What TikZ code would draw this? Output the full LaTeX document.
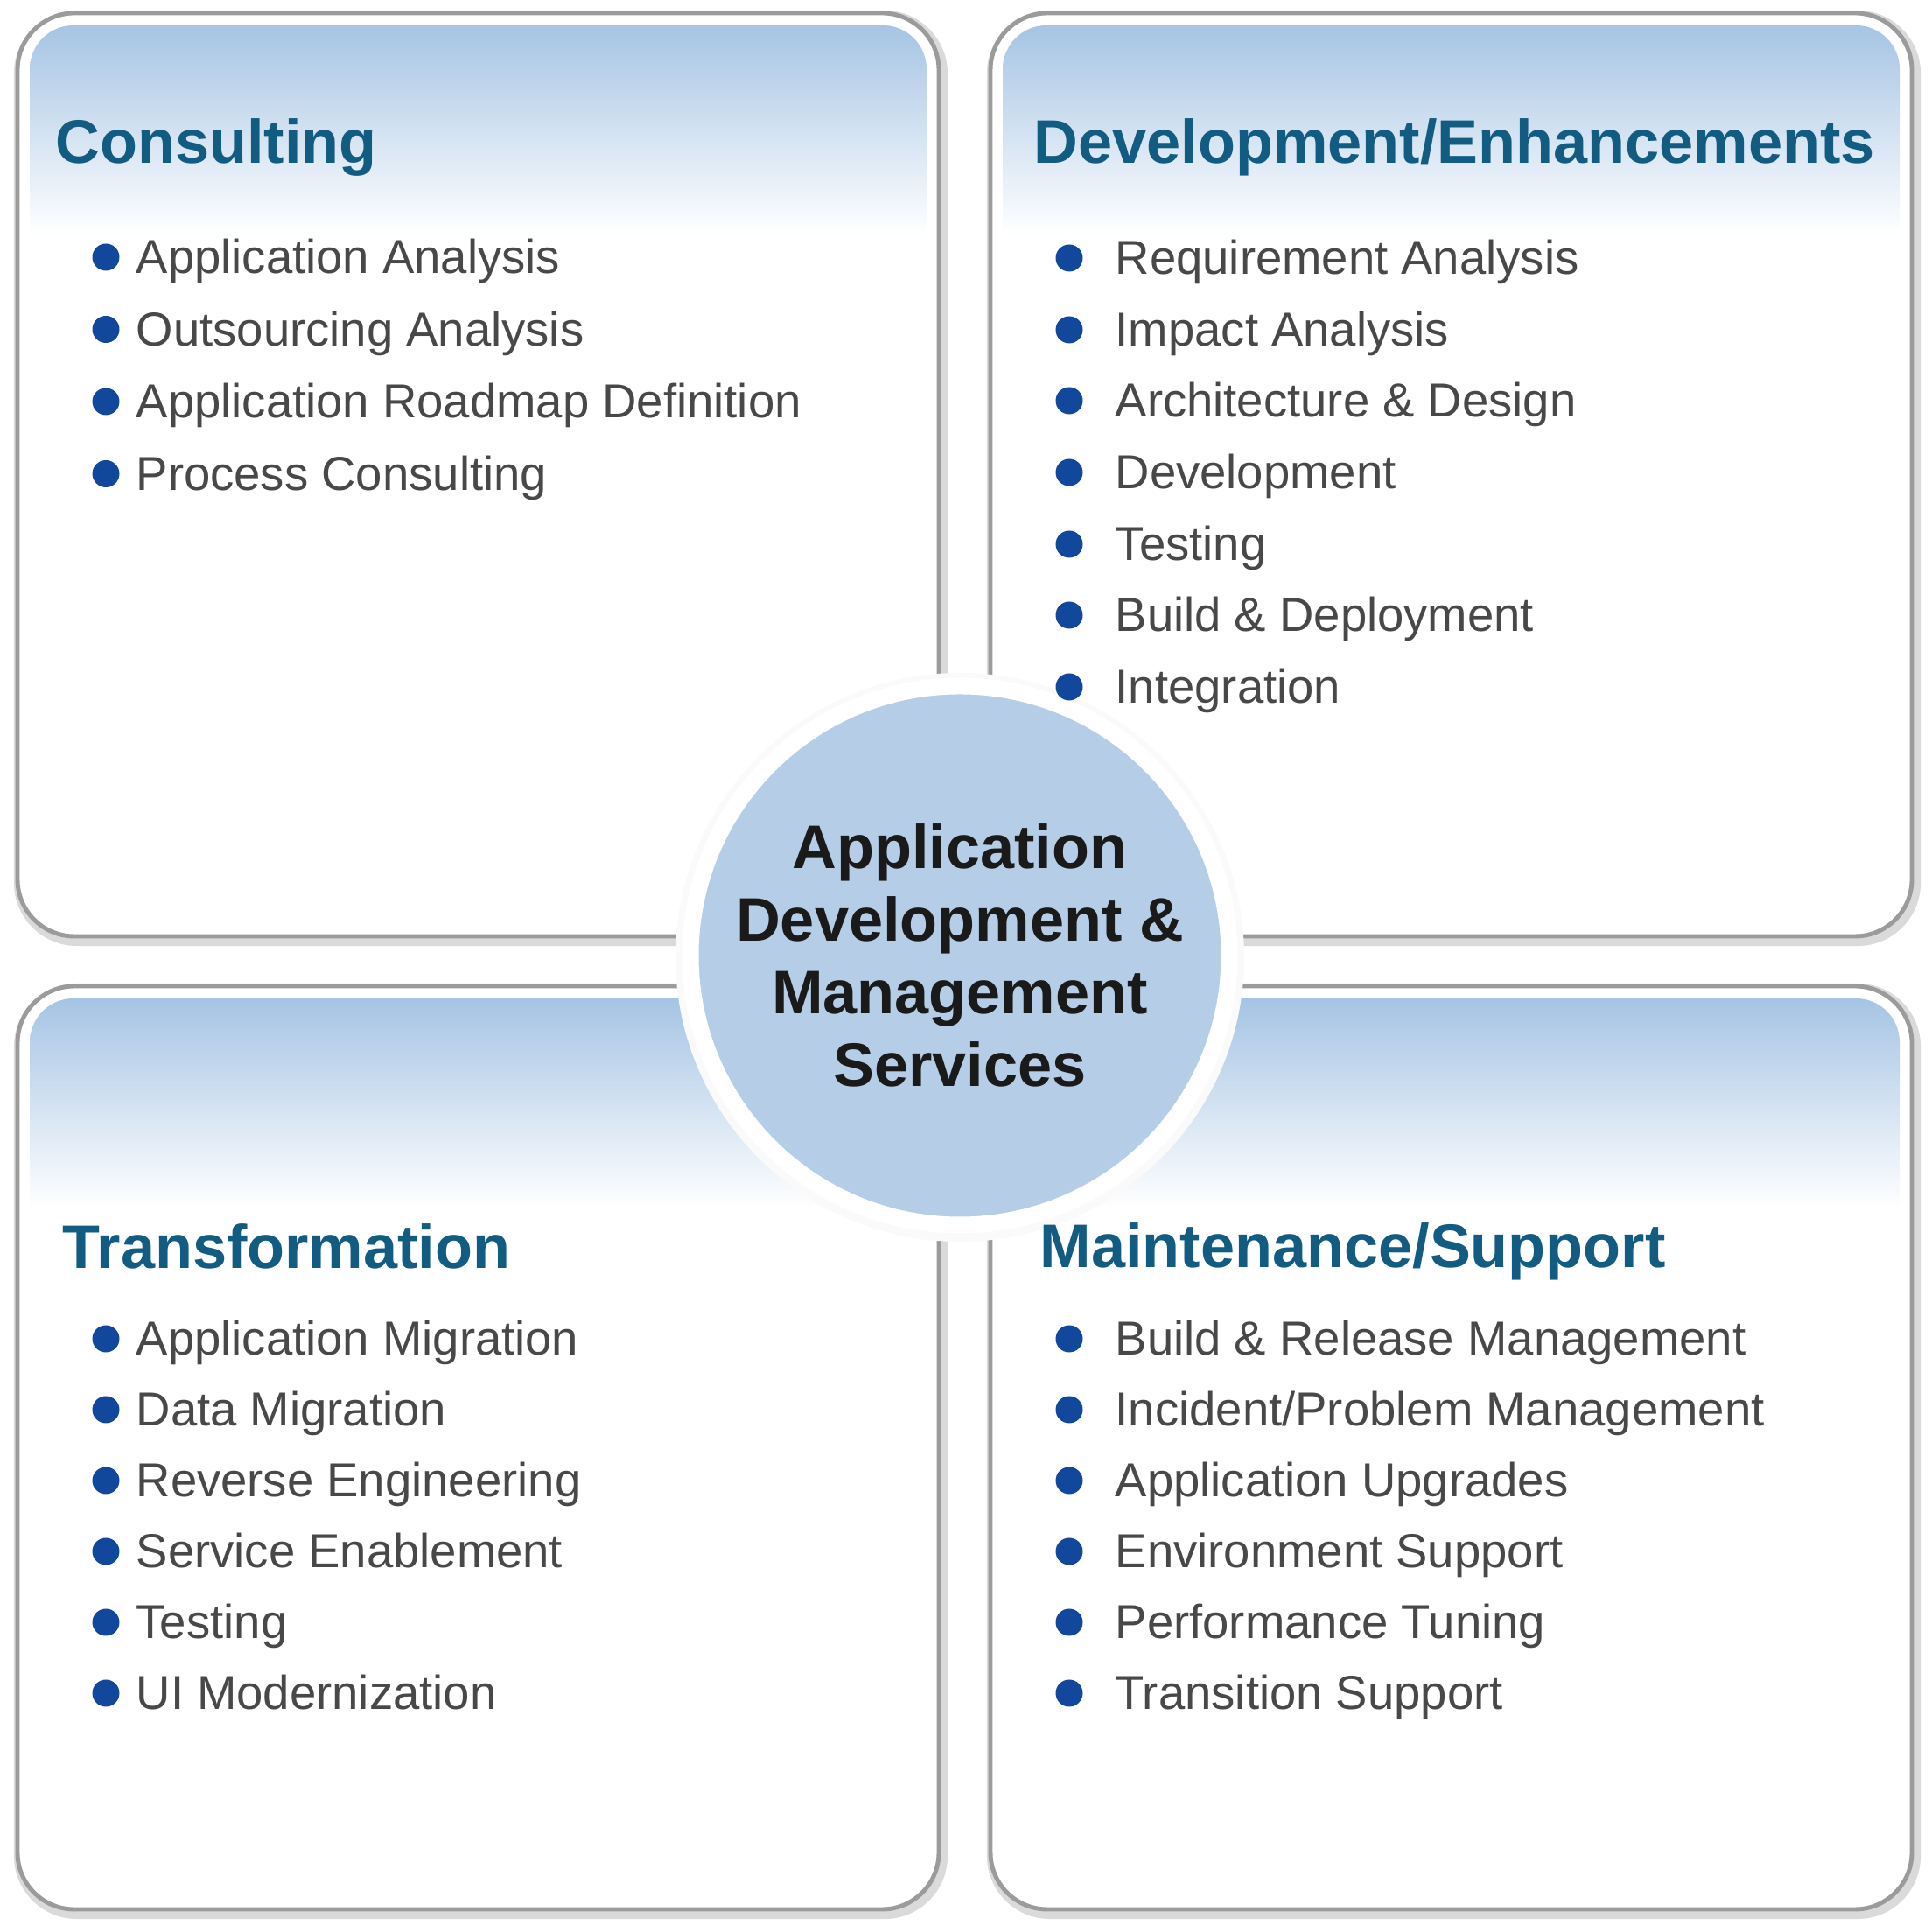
\documentclass[tikz,border=0pt]{standalone}
\usepackage{fontspec}
\setmainfont{Liberation Sans}
\usetikzlibrary{positioning}

\definecolor{panelblue}{RGB}{166,196,228}
\definecolor{framegray}{RGB}{155,155,155}
\definecolor{shadowgray}{RGB}{218,218,218}
\definecolor{hubblue}{RGB}{182,205,232}
\definecolor{titleblue}{RGB}{18,92,130}
\definecolor{itemgray}{RGB}{72,72,72}
\definecolor{dotblue}{RGB}{18,72,155}
\definecolor{hubtext}{RGB}{26,26,26}

\tikzset{
  heading/.style={anchor=base west, inner sep=0pt, text=titleblue,
    font=\fontsize{20}{24}\selectfont\bfseries},
  item/.style={anchor=base west, inner sep=0pt, text=itemgray,
    font=\fontsize{15.5}{18}\selectfont},
  dot/.style={circle, fill=dotblue, inner sep=0pt, minimum size=0.31cm},
  hub/.style={circle, fill=hubblue, draw=white, line width=5.4pt,
    minimum size=6.16cm, inner sep=0pt, align=center, text=hubtext,
    font=\fontsize{20}{23.6}\selectfont\bfseries}
}

\begin{document}
\begin{tikzpicture}
    \useasboundingbox (0,0) rectangle (22.08,22.08);
    \fill[white] (0,0) rectangle (22.08,22.08);

    % the four panels
    \foreach \x/\y in {0.20/11.38, 11.32/11.38, 0.20/0.26, 11.32/0.26} {
      \draw[line width=4pt, shadowgray, rounded corners=0.65cm]
        (\x+0.03,\y-0.04) rectangle ++(10.53,10.55);
      \draw[line width=1.4pt, framegray, fill=white, rounded corners=0.65cm]
        (\x,\y) rectangle ++(10.53,10.55);
      \begin{scope}
        \clip[rounded corners=0.5cm] (\x+0.14,\y+0.14) rectangle ++(10.25,10.27);
        \shade[top color=panelblue, bottom color=white]
          (\x,\y+10.41) rectangle ++(10.53,-2.4);
      \end{scope}
    }

    % centre circle
    \fill[gray!4] (10.97,11.14) circle (3.25);
    \node(hub) [hub] at (10.97,11.16) {Application\\Development \&\\Management\\Services};

    % Consulting
    \node(cons) [heading] at (0.63,20.21) {Consulting};
    \node(c1) [item] at (1.55,18.95)  {Application Analysis};
    \node(c2) [item] at (1.55,18.125) {Outsourcing Analysis};
    \node(c3) [item] at (1.55,17.30)  {Application Roadmap Definition};
    \node(c4) [item] at (1.55,16.475) {Process Consulting};
    \node(c1d) [dot] at (1.21,19.14)  {};
    \node(c2d) [dot] at (1.21,18.315) {};
    \node(c3d) [dot] at (1.21,17.49)  {};
    \node(c4d) [dot] at (1.21,16.665) {};

    % Development/Enhancements
    \node(dev) [heading] at (11.81,20.21) {Development/Enhancements};
    \node(d1) [item] at (12.74,18.94) {Requirement Analysis};
    \node(d2) [item] at (12.74,18.12) {Impact Analysis};
    \node(d3) [item] at (12.74,17.31) {Architecture \& Design};
    \node(d4) [item] at (12.74,16.49) {Development};
    \node(d5) [item] at (12.74,15.67) {Testing};
    \node(d6) [item] at (12.74,14.86) {Build \& Deployment};
    \node(d7) [item] at (12.74,14.04) {Integration};
    \node(d1d) [dot] at (12.22,19.13) {};
    \node(d2d) [dot] at (12.22,18.31) {};
    \node(d3d) [dot] at (12.22,17.50) {};
    \node(d4d) [dot] at (12.22,16.68) {};
    \node(d5d) [dot] at (12.22,15.86) {};
    \node(d6d) [dot] at (12.22,15.05) {};
    \node(d7d) [dot] at (12.22,14.23) {};

    % Transformation
    \node(trans) [heading] at (0.71,7.58) {Transformation};
    \node(t1) [item] at (1.55,6.59) {Application Migration};
    \node(t2) [item] at (1.55,5.78) {Data Migration};
    \node(t3) [item] at (1.55,4.97) {Reverse Engineering};
    \node(t4) [item] at (1.55,4.16) {Service Enablement};
    \node(t5) [item] at (1.55,3.35) {Testing};
    \node(t6) [item] at (1.55,2.54) {UI Modernization};
    \node(t1d) [dot] at (1.21,6.78) {};
    \node(t2d) [dot] at (1.21,5.97) {};
    \node(t3d) [dot] at (1.21,5.16) {};
    \node(t4d) [dot] at (1.21,4.35) {};
    \node(t5d) [dot] at (1.21,3.54) {};
    \node(t6d) [dot] at (1.21,2.73) {};

    % Maintenance/Support
    \node(maint) [heading] at (11.88,7.59) {Maintenance/Support};
    \node(m1) [item] at (12.74,6.59) {Build \& Release Management};
    \node(m2) [item] at (12.74,5.78) {Incident/Problem Management};
    \node(m3) [item] at (12.74,4.97) {Application Upgrades};
    \node(m4) [item] at (12.74,4.16) {Environment Support};
    \node(m5) [item] at (12.74,3.35) {Performance Tuning};
    \node(m6) [item] at (12.74,2.54) {Transition Support};
    \node(m1d) [dot] at (12.22,6.78) {};
    \node(m2d) [dot] at (12.22,5.97) {};
    \node(m3d) [dot] at (12.22,5.16) {};
    \node(m4d) [dot] at (12.22,4.35) {};
    \node(m5d) [dot] at (12.22,3.54) {};
    \node(m6d) [dot] at (12.22,2.73) {};

\end{tikzpicture}
\end{document}
